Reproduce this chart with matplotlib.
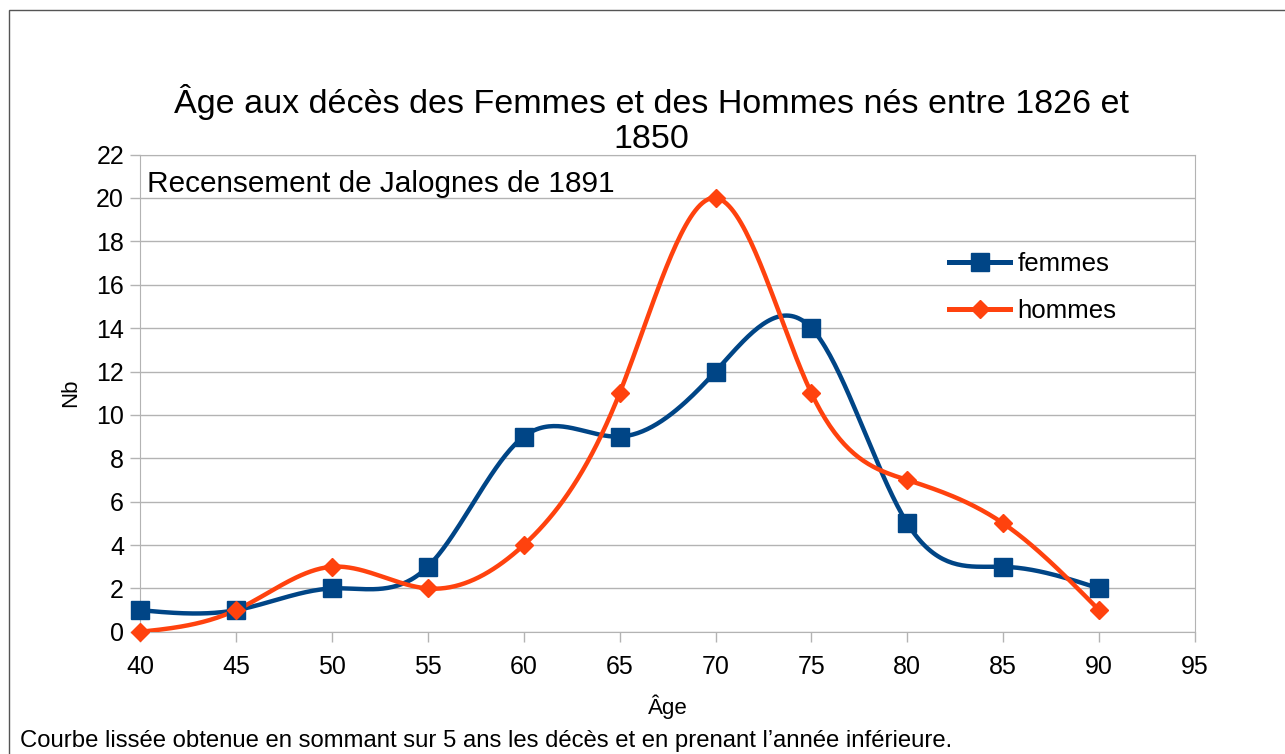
import numpy as np
import matplotlib
matplotlib.use('Agg')
import matplotlib.pyplot as plt
from matplotlib.lines import Line2D
from matplotlib.patches import Rectangle

plt.rcParams['font.family'] = ['Liberation Sans', 'DejaVu Sans']

# Data
ages = [40, 45, 50, 55, 60, 65, 70, 75, 80, 85, 90]
femmes = [1, 1, 2, 3, 9, 9, 12, 14, 5, 3, 2]
hommes = [0, 1, 3, 2, 4, 11, 20, 11, 7, 5, 1]

blue = '#004586'
orange = '#ff420e'


def natural_spline(x, y, n=400):
    # natural cubic spline, used only to draw the smoothed line
    x = np.asarray(x, float)
    y = np.asarray(y, float)
    k = len(x)
    h = np.diff(x)
    A = np.zeros((k, k))
    b = np.zeros(k)
    A[0, 0] = A[-1, -1] = 1
    for i in range(1, k - 1):
        A[i, i - 1] = h[i - 1]
        A[i, i] = 2 * (h[i - 1] + h[i])
        A[i, i + 1] = h[i]
        b[i] = 3 * ((y[i + 1] - y[i]) / h[i] - (y[i] - y[i - 1]) / h[i - 1])
    c = np.linalg.solve(A, b)
    xs = np.linspace(x[0], x[-1], n)
    idx = np.clip(np.searchsorted(x, xs) - 1, 0, k - 2)
    dx = xs - x[idx]
    bb = (y[idx + 1] - y[idx]) / h[idx] - h[idx] * (2 * c[idx] + c[idx + 1]) / 3
    d = (c[idx + 1] - c[idx]) / (3 * h[idx])
    ys = y[idx] + bb * dx + c[idx] * dx ** 2 + d * dx ** 3
    return xs, ys


fig = plt.figure(figsize=(12.85, 7.54), dpi=100)
ax = fig.add_axes([0.109, 0.162, 0.821, 0.633])

# outer frame
fig.patches.append(Rectangle((9 / 1285, -0.01), 1.1, 1 - 10 / 754 + 0.01,
                             transform=fig.transFigure, fill=False,
                             edgecolor='#555555', linewidth=1.0))

xs, ys = natural_spline(ages, femmes)
ax.plot(xs, ys, color=blue, linewidth=3.2, zorder=3)
ax.plot(ages, femmes, 's', color=blue, markersize=13, zorder=4, clip_on=False)

xs, ys = natural_spline(ages, hommes)
ax.plot(xs, ys, color=orange, linewidth=3.2, zorder=3)
ax.plot(ages, hommes, 'D', color=orange, markersize=9, zorder=4, clip_on=False)

ax.set_xlim(40, 95)
ax.set_ylim(0, 22)
ax.set_xticks(range(40, 96, 5))
ax.set_yticks(range(0, 23, 2))
ax.grid(axis='y', color='#b3b3b3', linewidth=1)
ax.set_axisbelow(True)
for s in ax.spines.values():
    s.set_color('#b3b3b3')
ax.tick_params(axis='both', colors='#b3b3b3', labelcolor='black', labelsize=18,
               length=7.5, width=1)
ax.tick_params(axis='x', pad=9)
ax.tick_params(axis='y', pad=4)

ax.set_xlabel('Âge', fontsize=16, labelpad=11)
ax.set_ylabel('Nb', fontsize=16, labelpad=11)

fig.text(0.507, 0.842, 'Âge aux décès des Femmes et des Hommes nés entre 1826 et\n1850',
         ha='center', va='center', fontsize=24.5, linespacing=1.16)

ax.text(0.007, 0.939, 'Recensement de Jalognes de 1891', transform=ax.transAxes,
        fontsize=21.4, va='center', ha='left')

handles = [
    Line2D([], [], color=blue, linewidth=3.6, marker='s', markersize=13),
    Line2D([], [], color=orange, linewidth=3.6, marker='D', markersize=9),
]
ax.legend(handles, ['femmes', 'hommes'], loc='center left',
          bbox_to_anchor=(0.745, 0.722), frameon=False, fontsize=18.6,
          handlelength=2.35, labelspacing=0.88, handletextpad=0.3)

fig.text(20 / 1285, 1 - 741 / 754, 'Courbe lissée obtenue en sommant sur 5 ans les décès et en prenant l\u2019année inférieure.',
         fontsize=17.2, ha='left', va='center')

fig.savefig('out.png', dpi=100)
